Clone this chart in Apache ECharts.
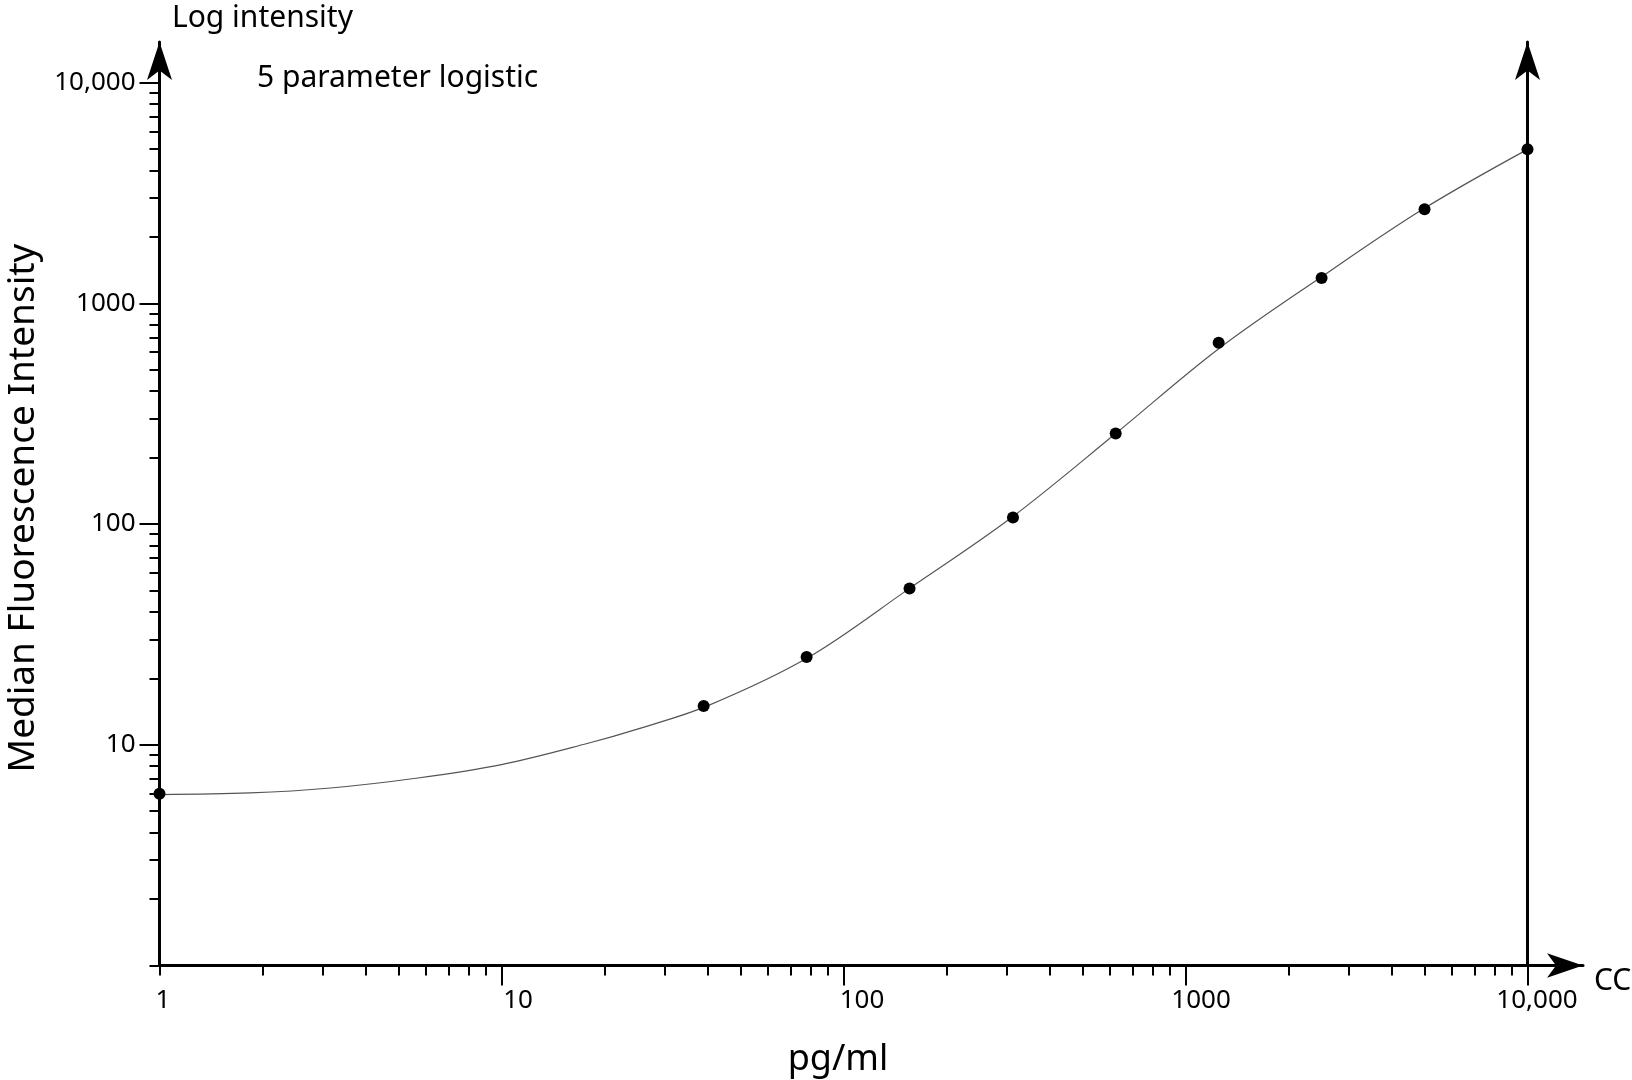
<!DOCTYPE html>
<html>
<head>
<meta charset="utf-8">
<script src="https://cdn.jsdelivr.net/npm/echarts@6/dist/echarts.min.js"></script>
<style>
html,body{margin:0;padding:0;background:#ffffff;}
#chart{width:1632px;height:1080px;}
</style>
</head>
<body>
<div id="chart"></div>
<script>
// ---- data ----
const concentrations = [1, 39, 78, 156, 313, 625, 1250, 2500, 5000, 10000];
const mfi = [6.0, 15.0, 25.0, 51, 107, 257, 663, 1300, 2665, 4980];

// fitted 5-parameter logistic curve
const curveX = [1, 1.84, 3.16, 5.62, 10, 17.8, 25.1, 40, 79, 156, 310, 625, 1240, 2470, 4940, 10000];
const curveY = [5.95, 6.05, 6.37, 7.05, 8.13, 10.13, 11.81, 15.0, 24.9, 51.1, 107, 257, 616, 1301, 2665, 4980];

const minorTicks = [1, 2, 3, 4, 5, 6, 7, 8, 9, 20, 30, 40, 50, 60, 70, 80, 90, 200, 300, 400, 500, 600, 700, 800, 900, 2000, 3000, 4000, 5000, 6000, 7000, 8000, 9000];
const majorTicks = [10, 100, 1000, 10000];
const xLabelValues = [1, 10, 100, 1000, 10000];
const xLabelTexts = ['1', '10', '100', '1000', '10,000'];
const yLabelValues = [10, 100, 1000, 10000];
const yLabelTexts = ['10', '100', '1000', '10,000'];

// ---- build ----
const FONT = '"Noto Sans", "Open Sans", sans-serif';
const X_MIN = 1, X_MAX = 14530, Y_MIN = 1, Y_MAX = 15260;
const pts = concentrations.map((c, i) => [c, mfi[i]]);
const curve = curveX.map((c, i) => [c, curveY[i]]);
const xShift = [7, 33, 37, 31, 19];

function labelIndex(values, v) {
  for (let i = 0; i < values.length; i++) {
    if (Math.abs(values[i] - v) / values[i] < 1e-6) return i;
  }
  return -1;
}

const xRich = {};
xShift.forEach((s, i) => {
  xRich['p' + i] = { padding: [0, 0, 0, s], fontSize: 26, fontFamily: FONT, color: '#000', lineHeight: 30 };
});

const chart = echarts.init(document.getElementById('chart'), null, { renderer: 'canvas' });
const option = {
  animation: false,
  backgroundColor: '#ffffff',
  grid: { left: 159.5, right: 49, top: 42, bottom: 114.5, containLabel: false },
  xAxis: [
    {
      type: 'log', min: X_MIN, max: X_MAX, position: 'bottom',
      axisLine: { show: true, lineStyle: { color: '#000', width: 3 }, symbol: ['none', 'arrow'], symbolSize: [18.4, 36] },
      axisTick: { show: true, inside: false, length: 10, lineStyle: { color: '#000', width: 2 }, customValues: minorTicks },
      axisLabel: {
        show: true, margin: 20, customValues: xLabelValues, fontFamily: FONT, fontSize: 26, color: '#000',
        formatter: function (v) { const i = labelIndex(xLabelValues, v); return i < 0 ? '' : '{p' + i + '|' + xLabelTexts[i] + '}'; },
        rich: xRich
      },
      splitLine: { show: false }, minorTick: { show: false }
    },
    {
      type: 'log', min: X_MIN, max: X_MAX, position: 'bottom',
      axisLine: { show: false },
      axisTick: { show: true, length: 20, lineStyle: { color: '#000', width: 2 }, customValues: majorTicks },
      axisLabel: { show: false },
      splitLine: { show: false }
    }
  ],
  yAxis: [
    {
      type: 'log', min: Y_MIN, max: Y_MAX, position: 'left',
      axisLine: { show: true, lineStyle: { color: '#000', width: 3 }, symbol: ['none', 'arrow'], symbolSize: [18.75, 38] },
      axisTick: { show: true, length: 10, lineStyle: { color: '#000', width: 2 }, customValues: minorTicks },
      axisLabel: {
        show: true, margin: 24, customValues: yLabelValues, fontFamily: FONT, fontSize: 26, color: '#000',
        padding: [0, 0, 14, 0],
        formatter: function (v) { const i = labelIndex(yLabelValues, v); return i < 0 ? '' : yLabelTexts[i]; }
      },
      splitLine: { show: false }
    },
    {
      type: 'log', min: Y_MIN, max: Y_MAX, position: 'left',
      axisLine: { show: false },
      axisTick: { show: true, length: 20, lineStyle: { color: '#000', width: 2 }, customValues: majorTicks },
      axisLabel: { show: false },
      splitLine: { show: false }
    },
    {
      type: 'log', min: Y_MIN, max: Y_MAX, position: 'right', offset: -55.5,
      axisLine: { show: true, lineStyle: { color: '#000', width: 3 }, symbol: ['none', 'arrow'], symbolSize: [18.75, 38] },
      axisTick: { show: false },
      axisLabel: { show: false },
      splitLine: { show: false }
    }
  ],
  series: [
    {
      type: 'line', name: 'fit', data: curve, xAxisIndex: 0, yAxisIndex: 0,
      smooth: 0.35, showSymbol: false, symbol: 'none',
      lineStyle: { color: '#555555', width: 1.2 }, z: 2, silent: true
    },
    {
      type: 'scatter', name: 'standards', data: pts, xAxisIndex: 0, yAxisIndex: 0,
      symbol: 'circle', symbolSize: 12,
      itemStyle: { color: '#000000', opacity: 1 }, z: 5, silent: true
    }
  ],
  graphic: [
    { type: 'text', x: 172, y: 18, style: { text: 'Log intensity', font: '30px ' + FONT, fill: '#000', textAlign: 'left', textVerticalAlign: 'middle' } },
    { type: 'text', x: 257, y: 78, style: { text: '5 parameter logistic', font: '30px ' + FONT, fill: '#000', textAlign: 'left', textVerticalAlign: 'middle' } },
    { type: 'text', x: 1594, y: 981, style: { text: 'CC', font: '30px ' + FONT, fill: '#000', textAlign: 'left', textVerticalAlign: 'middle' } },
    { type: 'text', x: 838, y: 1060, style: { text: 'pg/ml', font: '36px ' + FONT, fill: '#000', textAlign: 'center', textVerticalAlign: 'middle' } },
    { type: 'text', x: 23, y: 508, rotation: Math.PI / 2, style: { text: 'Median Fluorescence Intensity', font: '37px ' + FONT, fill: '#000', textAlign: 'center', textVerticalAlign: 'middle' } }
  ]
};
chart.setOption(option);
</script>
</body>
</html>
